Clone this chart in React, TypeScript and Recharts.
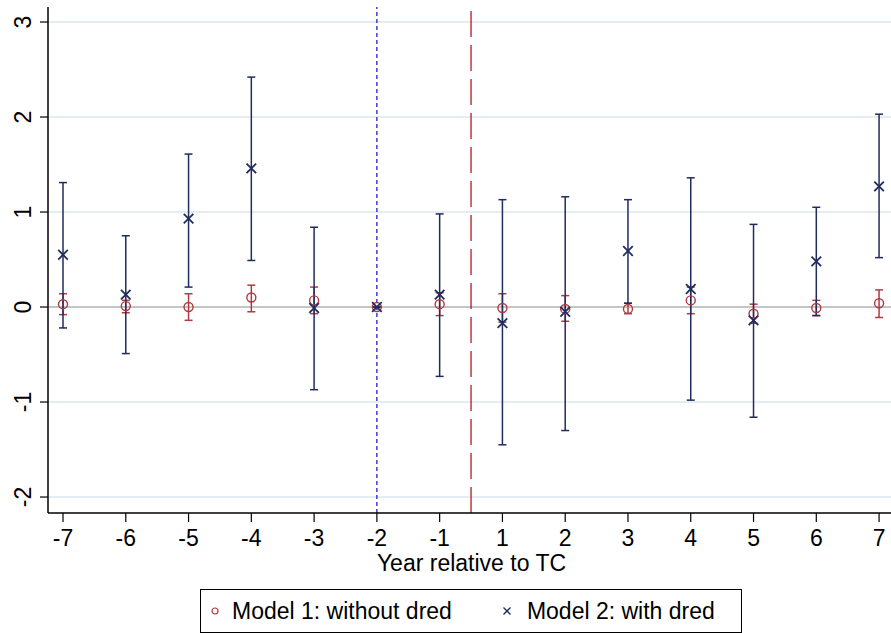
import React from 'react';
import {
  ComposedChart,
  Scatter,
  ErrorBar,
  XAxis,
  YAxis,
  ReferenceLine,
  Legend,
} from 'recharts';

// Event-time labels (year relative to TC); position index is used on the axis
const yearLabels = ['-7', '-6', '-5', '-4', '-3', '-2', '-1', '1', '2', '3', '4', '5', '6', '7'];

// Model 1: without dred — point estimates and 95% CI bounds
const m1Est = [0.03, 0.01, 0.0, 0.1, 0.07, 0.0, 0.03, -0.01, -0.02, -0.02, 0.07, -0.07, -0.01, 0.04];
const m1Lo = [-0.08, -0.06, -0.14, -0.05, -0.07, 0.0, -0.09, -0.16, -0.15, -0.07, -0.07, -0.17, -0.09, -0.11];
const m1Hi = [0.14, 0.07, 0.14, 0.23, 0.21, 0.0, 0.15, 0.14, 0.12, 0.04, 0.21, 0.03, 0.07, 0.18];

// Model 2: with dred — point estimates and 95% CI bounds
const m2Est = [0.55, 0.13, 0.93, 1.46, -0.01, 0.0, 0.13, -0.17, -0.05, 0.59, 0.19, -0.14, 0.48, 1.27];
const m2Lo = [-0.22, -0.49, 0.21, 0.49, -0.87, 0.0, -0.73, -1.45, -1.3, 0.04, -0.98, -1.16, -0.09, 0.52];
const m2Hi = [1.31, 0.75, 1.61, 2.42, 0.84, 0.0, 0.98, 1.13, 1.16, 1.13, 1.36, 0.87, 1.05, 2.03];

const yTicks = [-2, -1, 0, 1, 2, 3];
const legendItems = ['Model 1: without dred', 'Model 2: with dred'];

const NAVY = '#1f2c5e';
const RED = '#b03a42';
const FONT = '"Liberation Sans", Arial, Helvetica, sans-serif';
const FS = 23;

const build = (est: number[], lo: number[], hi: number[]) =>
  est.map((v, i) => ({ idx: i, est: v, err: [v - lo[i], hi[i] - v] }));

const model1 = build(m1Est, m1Lo, m1Hi);
const model2 = build(m2Est, m2Lo, m2Hi);

const CircleMark = (p: any) => (
  <circle cx={p.cx} cy={p.cy} r={4.5} fill="none" stroke={RED} strokeWidth={1.4} />
);

const CrossMark = (p: any) => {
  const s = 4.8;
  return (
    <g stroke={NAVY} strokeWidth={1.8}>
      <line x1={p.cx - s} y1={p.cy - s} x2={p.cx + s} y2={p.cy + s} />
      <line x1={p.cx - s} y1={p.cy + s} x2={p.cx + s} y2={p.cy - s} />
    </g>
  );
};

const YTick = (p: any) => {
  const x = p.x - 15;
  const y = p.y;
  return (
    <text
      x={x}
      y={y}
      transform={`rotate(-90, ${x}, ${y})`}
      textAnchor="middle"
      dominantBaseline="central"
      fontSize={FS}
      fontFamily={FONT}
      fill="#000"
    >
      {p.payload.value}
    </text>
  );
};

const XTick = (p: any) => (
  <text
    x={p.x}
    y={p.y + 14}
    textAnchor="middle"
    dominantBaseline="central"
    fontSize={FS}
    fontFamily={FONT}
    fill="#000"
  >
    {yearLabels[p.payload.value]}
  </text>
);

const XTitle = (p: any) => {
  const vb = p.viewBox;
  return (
    <text
      x={vb.x + vb.width / 2 + 2}
      y={vb.y + 50}
      textAnchor="middle"
      dominantBaseline="central"
      fontSize={FS}
      fontFamily={FONT}
      fill="#000"
    >
      Year relative to TC
    </text>
  );
};

const LegendBox = () => (
  <div
    style={{
      border: '1px solid #000',
      boxSizing: 'border-box',
      width: 542,
      height: 44,
      display: 'flex',
      alignItems: 'center',
      fontFamily: FONT,
      fontSize: FS,
      color: '#000',
    }}
  >
    <svg width={14} height={14} style={{ marginLeft: 7, marginRight: 10 }}>
      <circle cx={7} cy={7} r={3} fill="none" stroke={RED} strokeWidth={1.2} />
    </svg>
    <span>{legendItems[0]}</span>
    <svg width={14} height={14} style={{ marginLeft: 48, marginRight: 13 }}>
      <g stroke={NAVY} strokeWidth={1.3}>
        <line x1={3.5} y1={3.5} x2={10.5} y2={10.5} />
        <line x1={3.5} y1={10.5} x2={10.5} y2={3.5} />
      </g>
    </svg>
    <span>{legendItems[1]}</span>
  </div>
);

export default function App() {
  return (
    <div style={{ position: 'absolute', left: 0, top: 0, background: '#fff' }}>
      <ComposedChart
        width={891}
        height={633}
        margin={{ top: 7, right: 0, bottom: 16, left: 8 }}
      >
        <XAxis
          type="number"
          dataKey="idx"
          domain={[-0.239, 13.19]}
          allowDataOverflow
          ticks={yearLabels.map((_, i) => i)}
          interval={0}
          tick={<XTick />}
          tickSize={9}
          height={60}
          axisLine={{ stroke: '#000', strokeWidth: 1.5 }}
          tickLine={{ stroke: '#000', strokeWidth: 1.2 }}
          label={<XTitle />}
        />
        <YAxis
          type="number"
          dataKey="est"
          domain={[-2.168, 3.158]}
          allowDataOverflow
          ticks={yTicks}
          interval={0}
          width={40}
          tick={<YTick />}
          tickSize={8}
          axisLine={{ stroke: '#000', strokeWidth: 1.5 }}
          tickLine={{ stroke: '#000', strokeWidth: 1.2 }}
        />
        {yTicks
          .filter((t) => t !== 0)
          .map((t) => (
            <ReferenceLine key={t} y={t} stroke="#e4edf1" strokeWidth={2} />
          ))}
        <ReferenceLine y={0} stroke="#c4c6c6" strokeWidth={2} />
        <ReferenceLine x={5} stroke="#1f1fd8" strokeWidth={1.3} strokeDasharray="4 3" />
        <ReferenceLine x={6.5} stroke="#b8182a" strokeWidth={1.3} strokeDasharray="26 8" />
        <Scatter data={model1} dataKey="est" shape={<CircleMark />} isAnimationActive={false}>
          <ErrorBar dataKey="err" direction="y" width={4} stroke={RED} strokeWidth={1.5} />
        </Scatter>
        <Scatter data={model2} dataKey="est" shape={<CrossMark />} isAnimationActive={false}>
          <ErrorBar dataKey="err" direction="y" width={4} stroke={NAVY} strokeWidth={1.5} />
        </Scatter>
        <Legend
          content={<LegendBox />}
          wrapperStyle={{ position: 'absolute', left: 200, top: 589, width: 542, height: 44 }}
        />
      </ComposedChart>
    </div>
  );
}
